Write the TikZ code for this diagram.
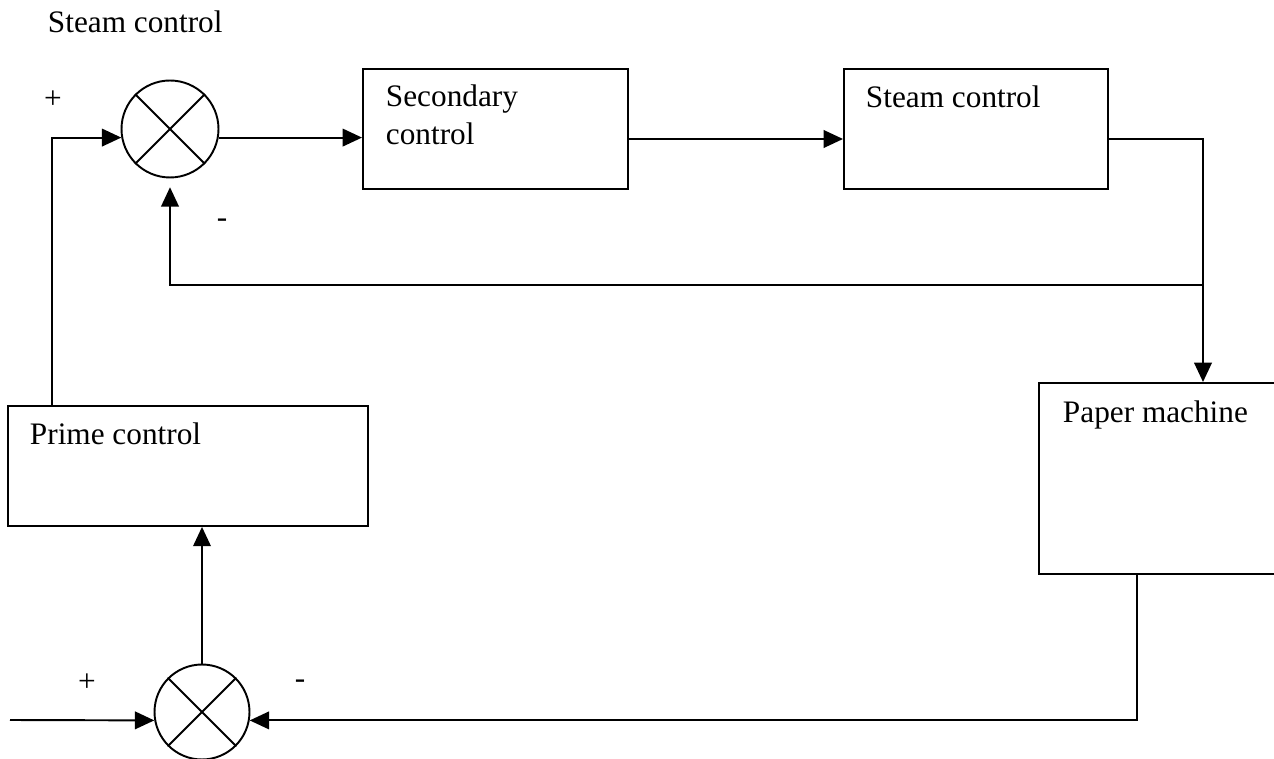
\documentclass[tikz,border=0pt]{standalone}
\usepackage{fontspec}
\setmainfont{Liberation Serif}
\usetikzlibrary{arrows.meta}

\begin{document}
\begin{tikzpicture}[x=0.02cm,y=-0.02cm,>={Triangle[length=11pt,width=10pt]},line width=1.1pt,
  every node/.style={font=\fontsize{17.8}{21.5}\selectfont,inner sep=0pt},
  blk/.style={draw,rectangle,anchor=north west},
  sum/.style={draw,circle,minimum size=1.94cm}]
\useasboundingbox (0,0) rectangle (1274,759);
% blocks
\node[blk,minimum width=5.3cm,minimum height=2.4cm] (sec) at (362,68) {};
\node[blk,minimum width=5.28cm,minimum height=2.4cm] (stm) at (843,68) {};
\node[blk,minimum width=5.4cm,minimum height=3.82cm] (pap) at (1038,382) {};
\node[blk,minimum width=7.2cm,minimum height=2.4cm] (prm) at (7,405) {};
\node[sum] (sumA) at (170,129) {};
\node[sum,minimum size=1.9cm] (sumB) at (202,712) {};
\draw (sumA.45)--(sumA.225) (sumA.135)--(sumA.315);
\draw (sumB.45)--(sumB.225) (sumB.135)--(sumB.315);
% texts
\node[anchor=base west] (title) at (47,33) {Steam control};
\node[anchor=north west,align=left] (secT) at (385,84) {Secondary\\control};
\node[anchor=base west] (stmT) at (865,108) {Steam control};
\node[anchor=base west] (papT) at (1062,423) {Paper machine};
\node[anchor=base west] (prmT) at (29,445) {Prime control};
\node (plA) at (53,100) {+};
\node (miA) at (222,223) {-};
\node (plB) at (87,683) {+};
\node (miB) at (300,684) {-};
% connectors
\coordinate (tap) at (52,0);
\coordinate (sigA) at (0,139);
\coordinate (drop) at (1203,0);
\coordinate (fbk) at (1203,285);
\coordinate (rise) at (1137,0);
\coordinate (in) at (10,720);
\draw[->] (prm.north -| tap) |- (sumA.190);
\draw[->] (sumA.-10) -- (sec.west |- sumA.-10);
\draw[->] (sec.east |- sigA) -- (stm.west |- sigA);
\draw[->] (stm.east |- sigA) -| (drop |- pap.north);
\draw[->,shorten >=5pt] (fbk) -| (sumA.south);
\draw[->] (rise |- pap.south) |- (sumB.-10);
\draw[->] (in) -- (sumB.190);
\draw[->] (sumB.north) -- (prm.south -| sumB.north);
\end{tikzpicture}
\end{document}
